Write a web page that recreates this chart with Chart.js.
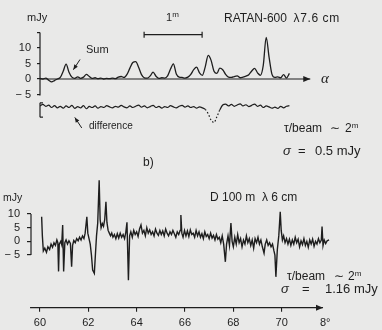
<!DOCTYPE html>
<html>
<head>
<meta charset="utf-8">
<script src="https://cdn.jsdelivr.net/npm/chart.js@4.4.1/dist/chart.umd.min.js"></script>
<style>
  html, body { margin: 0; padding: 0; }
  body {
    width: 382px; height: 330px; position: relative; overflow: hidden;
    background: #e9e9e8; color: #1e1e1e;
    font-family: "Liberation Sans", Arial, sans-serif;
  }
  canvas { position: absolute; left: 0; top: 0; }
  .lbl { position: absolute; white-space: pre; line-height: 1; }
  .lbl sup { font-size: 8px; vertical-align: 4px; line-height: 0; }
  .greek { font-style: italic; }
</style>
</head>
<body>
<canvas id="ratan" width="382" height="330" style="width:382px;height:330px"></canvas>
<canvas id="scan" width="382" height="330" style="width:382px;height:330px"></canvas>

<div class="lbl" style="left:27px;top:12px;font-size:11px">mJy</div>
<div class="lbl" style="left:166px;top:12px;font-size:11px">1<sup>m</sup></div>
<div class="lbl" style="left:224px;top:12px;font-size:12px">RATAN-600  <span style="letter-spacing:0.6px">λ7.6 cm</span></div>
<div class="lbl" style="left:86px;top:44px;font-size:11px">Sum</div>
<div class="lbl" style="left:321px;top:70px;font:italic 15px 'Liberation Serif', serif">α</div>
<div class="lbl" style="left:89px;top:121px;font-size:10px">difference</div>
<div class="lbl" style="left:284px;top:122px;font-size:12px">τ/beam</div>
<div class="lbl" style="left:330px;top:122px;font-size:12px">∼</div>
<div class="lbl" style="left:345px;top:122px;font-size:12px">2<sup>m</sup></div>
<div class="lbl greek" style="left:283px;top:144px;font-size:13px">σ</div>
<div class="lbl" style="left:298px;top:144px;font-size:13px">=</div>
<div class="lbl" style="left:315px;top:144px;font-size:13px">0.5 mJy</div>
<div class="lbl" style="left:143px;top:156px;font-size:12px">b)</div>

<div class="lbl" style="left:3px;top:192px;font-size:10.5px">mJy</div>
<div class="lbl" style="left:210px;top:191px;font-size:12px">D 100 m  λ 6 cm</div>
<div class="lbl" style="left:287px;top:270px;font-size:12px">τ/beam</div>
<div class="lbl" style="left:334px;top:270px;font-size:12px">∼</div>
<div class="lbl" style="left:348px;top:270px;font-size:12px">2<sup>m</sup></div>
<div class="lbl greek" style="left:281px;top:282px;font-size:13px">σ</div>
<div class="lbl" style="left:302px;top:282px;font-size:13px">=</div>
<div class="lbl" style="left:325px;top:282px;font-size:13px">1.16 mJy</div>

<script>
/* ---- RATAN-600, 7.6 cm: sum and difference scans, one sample per 0.05 min of RA ---- */
const SUM_STEP = 0.05;
const sumFlux = [
  0.2, 0.0, 0.3, -0.4, -0.9, -0.5, 0.0, 0.5, 2.5, 4.8,
  2.2, 0.6, 0.2, 0.7, 0.2, 0.6, 1.5, 0.8, 0.2, 0.4,
  0.1, 0.3, 0.0, 0.2, 0.1, 0.3, 0.1, 0.6, 0.8, 0.5,
  1.5, 3.5, 5.3, 5.6, 3.8, 1.4, 0.4, 0.3, 1.0, 2.2,
  0.9, 0.2, 0.4, 0.3, 1.0, 3.2, 4.9, 1.6, 0.6, 0.5,
  0.3, 0.6, 1.5, 3.0, 3.8, 2.0, 1.2, 4.0, 7.6, 6.0,
  2.5, 1.8, 3.5, 3.0, 1.5, 0.6, 0.5, 0.8, 1.0, 0.4,
  0.6, 0.9, 1.4, 2.6, 3.4, 2.0, 1.2, 4.5, 13.4, 7.0,
  1.5, 0.5, 0.7, 0.4, 1.4, 0.3, 1.8
];
// difference trace, relative to its own baseline
const diffResidual = [
  0.3, 0.8, 0.2, 0.6, -0.2, 0.4, -0.3, 0.2, -0.4, 0.3,
  -0.2, 0.5, -0.5, 0.1, -0.3, 0.4, -0.6, 0.2, -0.2, 0.3,
  -0.4, 0.1, -0.2, 0.4, 0.0, -0.3, 0.2, -0.1, 0.5, 0.0,
  -0.3, 0.3, -0.2, 0.2, 0.6, -0.1, 0.3, -0.3, 0.1, 0.5,
  -0.2, 0.2, -0.4, 0.1, -0.2, 0.4, 0.0, -0.3, 0.2, 0.5,
  -0.1, 0.3, -0.2, 0.1, -0.4, 0.0, -0.3, -0.8, -2.2, -4.3,
  -5.0, -3.2, -1.0, 0.6, 0.9, 0.3, 0.8, 0.2, 0.6, 1.0,
  0.3, 0.7, 0.1, 0.5, 0.9, 0.2, 0.6, -0.2, 0.3, 0.0,
  -0.4, -0.1, -0.5, 0.2, -0.3, 0.2, 0.4
];
const DIFF_BASE = -9;          // difference is plotted shifted below the sum
const ratanTicks = [-5, 0, 5, 10, 15];
const ratanLabels = ['\u2212 5', '0', '5', '10', ''];

/* ---- 100 m telescope, 6 cm scan: position (deg) and flux (mJy) ---- */
const scanDeg = [
  60.07, 60.10, 60.14, 60.20, 60.27, 60.33, 60.40, 60.46, 60.52, 60.58,
  60.64, 60.70, 60.74, 60.77, 60.80, 60.86, 60.90, 60.94, 60.98, 61.03,
  61.08, 61.14, 61.20, 61.26, 61.31, 61.35, 61.40, 61.46, 61.52, 61.58,
  61.64, 61.70, 61.76, 61.82, 61.87, 61.94, 61.98, 62.03, 62.08, 62.13,
  62.18, 62.25, 62.30, 62.34, 62.39, 62.45, 62.49, 62.53, 62.58, 62.63,
  62.68, 62.73, 62.77, 62.82, 62.87, 62.92, 62.97, 63.02, 63.08, 63.14,
  63.20, 63.26, 63.32, 63.38, 63.44, 63.50, 63.55, 63.60, 63.66, 63.71,
  63.76, 63.82, 63.88, 63.94, 64.00, 64.06, 64.12, 64.18, 64.24, 64.30,
  64.36, 64.42, 64.48, 64.54, 64.60, 64.66, 64.72, 64.78, 64.84, 64.90,
  64.96, 65.02, 65.08, 65.14, 65.20, 65.26, 65.32, 65.38, 65.44, 65.50,
  65.56, 65.62, 65.68, 65.74, 65.80, 65.83, 65.87, 65.92, 65.98, 66.04,
  66.10, 66.16, 66.22, 66.28, 66.34, 66.40, 66.46, 66.52, 66.58, 66.64,
  66.70, 66.76, 66.82, 66.88, 66.94, 67.00, 67.06, 67.12, 67.18, 67.24,
  67.30, 67.36, 67.42, 67.48, 67.54, 67.60, 67.67, 67.72, 67.78, 67.84,
  67.90, 67.95, 68.00, 68.06, 68.12, 68.18, 68.24, 68.30, 68.36, 68.42,
  68.48, 68.54, 68.60, 68.66, 68.72, 68.78, 68.84, 68.90, 68.96, 69.02,
  69.08, 69.14, 69.20, 69.27, 69.32, 69.38, 69.44, 69.50, 69.56, 69.62,
  69.68, 69.72, 69.76, 69.82, 69.88, 69.94, 69.98, 70.03, 70.08, 70.14,
  70.20, 70.26, 70.32, 70.38, 70.44, 70.50, 70.56, 70.62, 70.68, 70.74,
  70.80, 70.86, 70.92, 70.98, 71.04, 71.10, 71.16, 71.22, 71.28, 71.34,
  71.40, 71.46, 71.52, 71.58, 71.64, 71.67, 71.71, 71.76, 71.82, 71.88,
  71.96
];
const scanFlux = [
  9.0, 2.0, -3.5, -2.5, -4.0, -2.0, -3.0, -1.0, -2.2, -0.5,
  -1.5, 0.5, -0.5, -11.0, -1.0, 0.0, -1.2, 6.0, -11.0, -0.5,
  0.5, -1.0, 0.2, -0.8, -9.3, -1.5, 0.3, -0.5, 1.0, 0.2,
  1.5, 0.5, 2.0, 1.0, 3.0, 9.0, 3.0, 1.0, -1.0, -5.0,
  -10.5, -11.7, -4.0, 2.0, 6.7, 22.4, 8.0, 5.0, 6.5, 5.5,
  8.0, 14.5, 7.0, 4.0, 3.0, 2.0, 3.0, 1.5, 2.5, 1.0,
  2.8, 1.2, 3.0, 1.5, 2.5, 1.0, 3.2, 7.0, -14.2, 2.0,
  3.5, 1.5, 4.0, 2.5, 3.5, 1.8, 4.5, 6.0, 3.0, 4.0,
  2.0, 5.0, 3.0, 4.2, 2.5, 3.5, 2.0, 4.5, 3.0, 2.2,
  4.0, 2.5, 3.8, 2.0, 4.5, 3.0, 2.0, 3.5, 2.5, 4.0,
  2.8, 1.5, 3.5, 2.5, 4.0, 9.6, 3.0, 1.5, 4.0, 2.0,
  3.8, 1.8, 4.2, 2.5, 3.0, 1.5, 4.0, 2.0, 3.5, 1.5,
  2.8, 1.0, 3.5, 1.8, 2.5, 1.0, 3.0, 1.2, 2.2, 0.5,
  2.5, 0.8, 1.5, -0.5, 2.0, -1.0, -7.5, -1.0, 2.0, -1.5,
  6.7, 0.0, -2.0, 1.5, -1.0, 2.5, -0.5, 1.0, -2.0, 0.5,
  -1.0, 2.0, -0.5, 1.0, -1.5, 0.5, -2.5, 1.0, -0.5, 1.5,
  -1.0, 0.5, -2.0, -4.3, -1.0, 0.5, -1.5, -0.5, -2.0, -1.0,
  -3.5, -5.0, -13.0, -3.0, 2.0, 10.8, 4.0, 0.5, 2.0, -0.5,
  1.0, -1.0, 0.8, -1.5, 0.5, -1.0, 1.5, -0.5, 0.8, -2.0,
  0.2, -1.2, 1.0, -1.5, 0.0, -2.2, 0.5, -1.0, 0.8, -1.8,
  0.0, -1.0, 1.0, -0.5, 0.5, 5.4, -1.5, 0.5, -0.8, 0.2,
  0.5
];
const scanYTicks = [-5, 0, 5, 10];
const scanYLabels = ['\u2212 5', '0', '5', '10'];
// last entry is the unit mark set just past the arrow head
const scanXTicks = [60, 62, 64, 66, 68, 70, 71.8];
const scanXLabels = ['60', '62', '64', '66', '68', '70', '8°'];

const INK = '#1e1e1e';

Chart.defaults.font.family = '"Liberation Sans", Arial, sans-serif';
Chart.defaults.color = INK;

/* small drawing helpers for the hand-drawn axis furniture */
function line(ctx, x1, y1, x2, y2) {
  ctx.beginPath();
  ctx.moveTo(x1, y1);
  ctx.lineTo(x2, y2);
  ctx.stroke();
}
function arrow(ctx, x1, y1, x2, y2, size) {
  line(ctx, x1, y1, x2, y2);
  const a = Math.atan2(y2 - y1, x2 - x1);
  ctx.save();
  ctx.translate(x2, y2);
  ctx.rotate(a);
  ctx.beginPath();
  ctx.moveTo(0, 0);
  ctx.lineTo(-size, -size * 0.42);
  ctx.lineTo(-size, size * 0.42);
  ctx.closePath();
  ctx.fill();
  ctx.restore();
}

function pickTicks(values) {
  return function (scale) { scale.ticks = values.map(v => ({ value: v })); };
}
function labelFor(values, labels) {
  return function (v) { return labels[values.indexOf(v)]; };
}

/* upper panel: flux axis, alpha axis, difference bracket, 1m bar, pointers */
const ratanFurniture = {
  id: 'ratanFurniture',
  beforeDatasetsDraw(chart) {
    const { ctx, scales: { x, y } } = chart;
    ctx.save();
    ctx.strokeStyle = INK;
    ctx.fillStyle = INK;
    ctx.lineWidth = 1.2;

    const ax = x.getPixelForValue(0);
    line(ctx, ax, y.getPixelForValue(15), ax, y.getPixelForValue(-5.3));

    const y0 = y.getPixelForValue(0);
    arrow(ctx, ax, y0, x.getPixelForValue(4.66), y0, 7);

    // bracket marking the difference scale
    const bt = y.getPixelForValue(-7.7), bb = y.getPixelForValue(-12.3);
    line(ctx, ax, bt, ax, bb);
    line(ctx, ax, bt, ax + 3, bt);
    line(ctx, ax, bb, ax + 3, bb);

    // one minute of RA
    const by = y.getPixelForValue(14.3);
    const b1 = x.getPixelForValue(1.795), b2 = x.getPixelForValue(2.795);
    line(ctx, b1, by, b2, by);
    line(ctx, b1, by - 3, b1, by + 3);
    line(ctx, b2, by - 3, b2, by + 3);

    ctx.lineWidth = 1;
    arrow(ctx, x.getPixelForValue(0.69), y.getPixelForValue(6.3),
               x.getPixelForValue(0.575), y.getPixelForValue(3.0), 5);
    arrow(ctx, x.getPixelForValue(0.72), y.getPixelForValue(-15.8),
               x.getPixelForValue(0.60), y.getPixelForValue(-12.4), 5);
    ctx.restore();
  }
};

/* lower panel: short flux axis and the position axis with its arrow */
const scanFurniture = {
  id: 'scanFurniture',
  beforeDatasetsDraw(chart) {
    const { ctx, chartArea, scales: { x, y } } = chart;
    ctx.save();
    ctx.strokeStyle = INK;
    ctx.fillStyle = INK;
    ctx.lineWidth = 1.2;
    const left = chartArea.left;
    line(ctx, left, y.getPixelForValue(10), left, y.getPixelForValue(-5));
    const yb = chartArea.bottom;
    arrow(ctx, x.getPixelForValue(59.59), yb, x.getPixelForValue(71.71), yb, 7);
    ctx.restore();
  }
};

new Chart(document.getElementById('ratan'), {
  type: 'line',
  data: {
    datasets: [
      {
        label: 'Sum',
        data: sumFlux.map((v, i) => ({ x: i * SUM_STEP, y: v })),
        borderColor: INK,
        borderWidth: 1.3,
        pointRadius: 0,
        tension: 0.4,
        cubicInterpolationMode: 'monotone'
      },
      {
        label: 'difference',
        data: diffResidual.map((v, i) => ({ x: i * SUM_STEP, y: DIFF_BASE + v })),
        borderColor: INK,
        borderWidth: 1.2,
        pointRadius: 0,
        tension: 0.4,
        cubicInterpolationMode: 'monotone',
        segment: {
          borderDash: c => (c.p0.parsed.y < DIFF_BASE - 1 || c.p1.parsed.y < DIFF_BASE - 1) ? [1.5, 2] : undefined
        }
      }
    ]
  },
  options: {
    responsive: false,
    animation: false,
    events: [],
    layout: { padding: { left: 0, top: 32.5, right: 69.4, bottom: 201.4 } },
    plugins: { legend: { display: false }, tooltip: { enabled: false } },
    scales: {
      x: { type: 'linear', min: 0, max: 4.7, display: false },
      y: {
        min: -16,
        max: 15,
        afterFit: s => { s.width = 40; },
        afterBuildTicks: pickTicks(ratanTicks),
        ticks: { callback: labelFor(ratanTicks, ratanLabels), padding: 6, font: { size: 11 }, color: INK },
        grid: { drawOnChartArea: false, tickLength: 3, color: INK, lineWidth: 1.2 },
        border: { display: false }
      }
    }
  },
  plugins: [ratanFurniture]
});

new Chart(document.getElementById('scan'), {
  type: 'line',
  data: {
    datasets: [{
      label: 'D 100 m',
      data: scanDeg.map((d, i) => ({ x: d, y: scanFlux[i] })),
      borderColor: INK,
      borderWidth: 1.4,
      pointRadius: 0,
      tension: 0
    }]
  },
  options: {
    responsive: false,
    animation: false,
    events: [],
    layout: { padding: { left: 0, top: 175.8, right: 51, bottom: 0 } },
    plugins: { legend: { display: false }, tooltip: { enabled: false } },
    scales: {
      x: {
        type: 'linear',
        min: 59.63,
        max: 72.04,
        afterFit: s => { s.height = 22.3; },
        afterBuildTicks: pickTicks(scanXTicks),
        ticks: { callback: labelFor(scanXTicks, scanXLabels), padding: 5, font: { size: 11 }, color: INK, maxRotation: 0, autoSkip: false },
        grid: {
          drawOnChartArea: false,
          tickLength: 4,
          lineWidth: 1.1,
          tickColor: c => (c.tick && c.tick.value === 71.8) ? 'rgba(0,0,0,0)' : INK
        },
        border: { display: false }
      },
      y: {
        min: -24.3,
        max: 24,
        afterFit: s => { s.width = 31; },
        afterBuildTicks: pickTicks(scanYTicks),
        ticks: { callback: labelFor(scanYTicks, scanYLabels), padding: 7, font: { size: 11 }, color: INK },
        grid: { drawOnChartArea: false, tickLength: 4, color: INK, lineWidth: 1.2 },
        border: { display: false }
      }
    }
  },
  plugins: [scanFurniture]
});
</script>
</body>
</html>
